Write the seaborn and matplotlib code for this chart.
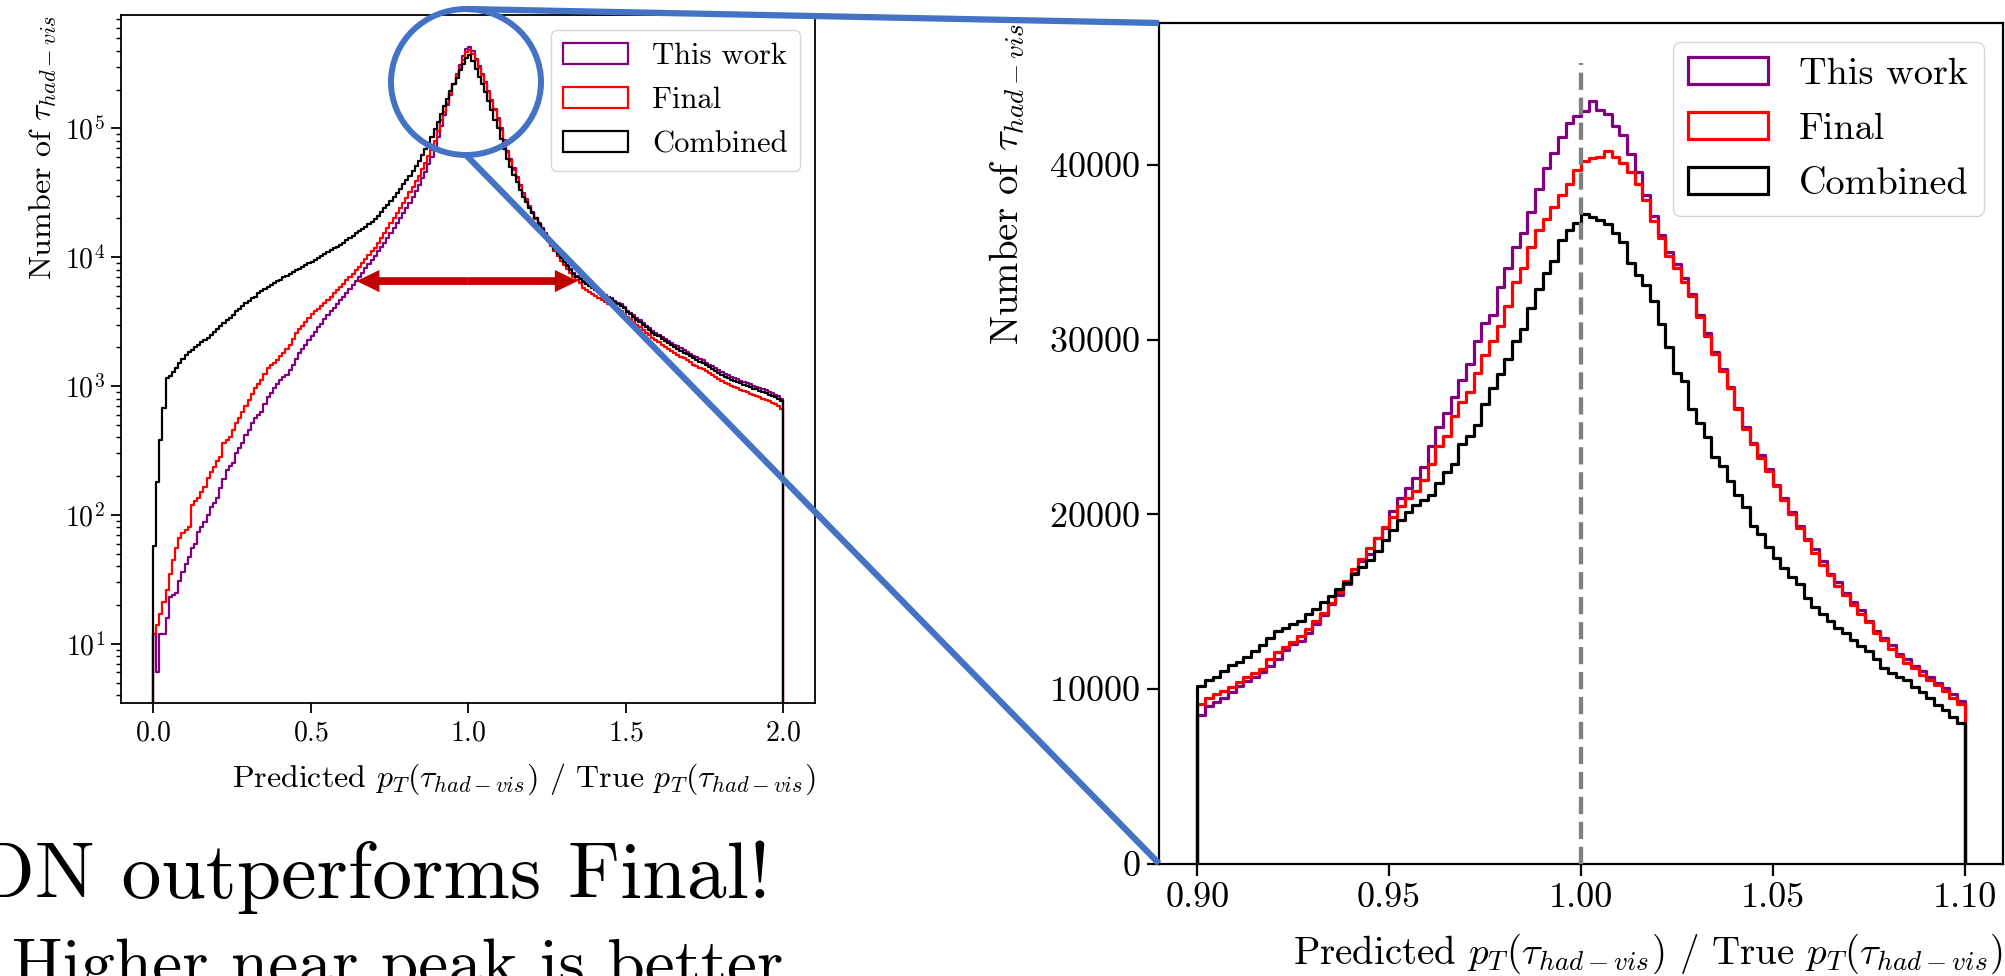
import numpy as np
import matplotlib
matplotlib.use("Agg")
import matplotlib.pyplot as plt
import seaborn as sns
from matplotlib.patches import Ellipse, Patch

# ---------------- data ----------------
series_labels = ["This work", "Final", "Combined"]
series_colors = ["purple", "red", "black"]

# full range: 0 - 2, 200 bins (log-scale view)
wide_lo, wide_hi = 0.0, 2.0
wide_this_work = [
    12, 6, 12, 12, 16, 23, 24, 25, 31, 36,
    42, 47, 55, 60, 74, 80, 89, 100, 116, 125,
    135, 161, 190, 224, 240, 251, 301, 330, 360, 417,
    460, 513, 562, 600, 631, 720, 828, 890, 961, 1040,
    1115, 1170, 1220, 1330, 1460, 1620, 1795, 1950, 2100, 2280,
    2450, 2650, 2850, 3050, 3300, 3540, 3800, 4050, 4350, 4650,
    4950, 5300, 5700, 6100, 6550, 7050, 7600, 8200, 8850, 9550,
    10300, 11100, 12000, 13000, 14100, 15300, 16700, 18300, 20000, 22000,
    24100, 26500, 29400, 32700, 36500, 41000, 46200, 52500, 60000, 71000,
    85100, 105000, 126000, 151000, 182000, 219000, 263000, 309000, 363000, 412000,
    430000, 398000, 347000, 302000, 263000, 229000, 195000, 166000, 141000, 120000,
    100000, 81300, 66800, 57500, 49000, 42200, 36300, 31600, 28200, 24800,
    22400, 20300, 18500, 16900, 15400, 14100, 12900, 11700, 10800, 10000,
    9250, 8650, 8100, 7550, 7150, 6850, 6550, 6250, 6050, 5850,
    5650, 5450, 5300, 5100, 4950, 4800, 4600, 4450, 4300, 4100,
    3850, 3700, 3530, 3380, 3230, 3080, 2940, 2800, 2690, 2600,
    2510, 2420, 2320, 2240, 2170, 2100, 2030, 1960, 1900, 1840,
    1780, 1720, 1670, 1630, 1580, 1520, 1470, 1420, 1370, 1330,
    1290, 1240, 1210, 1180, 1160, 1130, 1100, 1070, 1050, 1030,
    1000, 990, 965, 945, 925, 905, 880, 860, 835, 795,
]
wide_final = [
    12, 14, 17, 21, 26, 35, 45, 55, 66, 72,
    77, 81, 119, 128, 135, 150, 166, 193, 215, 237,
    262, 283, 360, 380, 405, 460, 513, 570, 631, 700,
    780, 870, 961, 1040, 1115, 1240, 1373, 1450, 1500, 1590,
    1700, 1795, 1950, 2084, 2300, 2570, 2750, 2950, 3150, 3400,
    3630, 3800, 3980, 4150, 4400, 4680, 4950, 5250, 5550, 5850,
    6150, 6600, 7000, 7450, 7900, 8450, 9000, 9700, 10400, 11100,
    11800, 12900, 14100, 15400, 16800, 18300, 20000, 22000, 24000, 26300,
    28800, 31800, 35000, 38800, 43000, 48000, 54000, 60500, 68000, 80000,
    95500, 115000, 135000, 158000, 186000, 219000, 257000, 295000, 339000, 389000,
    405000, 380000, 339000, 295000, 257000, 224000, 191000, 162000, 138000, 117000,
    97700, 79400, 65300, 56200, 47900, 41200, 35500, 30900, 27900, 24500,
    22100, 19800, 17900, 16200, 14700, 13400, 12200, 11100, 10200, 9400,
    8700, 8100, 7500, 7000, 6600, 6300, 5800, 5550, 5350, 5150,
    5000, 4800, 4650, 4500, 4350, 4250, 4050, 3950, 3800, 3650,
    3450, 3300, 3150, 3000, 2850, 2700, 2600, 2480, 2350, 2280,
    2200, 2100, 2020, 1950, 1880, 1820, 1750, 1690, 1640, 1580,
    1530, 1470, 1430, 1390, 1350, 1300, 1260, 1210, 1170, 1130,
    1100, 1060, 1030, 1000, 985, 960, 940, 915, 895, 875,
    850, 840, 820, 800, 785, 760, 745, 720, 700, 670,
]
wide_combined = [
    57, 181, 380, 673, 1150, 1200, 1290, 1380, 1500, 1620,
    1740, 1830, 1900, 2010, 2080, 2190, 2290, 2380, 2490, 2640,
    2760, 2900, 3080, 3250, 3380, 3560, 3800, 3950, 4180, 4420,
    4600, 4820, 4950, 5230, 5450, 5620, 5850, 6100, 6300, 6550,
    6700, 7000, 7200, 7450, 7650, 7900, 8100, 8400, 8650, 8950,
    9200, 9500, 9850, 10200, 10600, 10900, 11300, 11700, 12100, 12500,
    13000, 13500, 14100, 14700, 15300, 15900, 16600, 17300, 18100, 18900,
    19800, 21000, 22500, 24000, 25500, 27400, 29300, 31500, 34000, 36700,
    39500, 42500, 46500, 51000, 56000, 62000, 69000, 77000, 85000, 98000,
    112000, 129000, 148000, 170000, 195000, 219000, 245000, 282000, 316000, 351000,
    371000, 331000, 288000, 251000, 219000, 191000, 162000, 138000, 117000, 100000,
    83000, 69000, 57500, 50000, 43600, 38000, 33100, 29500, 26900, 24000,
    21900, 20000, 18200, 16600, 15100, 13800, 12600, 11500, 10600, 9800,
    9100, 8500, 7950, 7400, 7000, 6750, 6450, 6150, 5950, 5750,
    5550, 5350, 5200, 5000, 4850, 4700, 4500, 4350, 4200, 4000,
    3750, 3600, 3430, 3280, 3130, 2990, 2850, 2720, 2600, 2510,
    2430, 2340, 2240, 2160, 2090, 2020, 1950, 1880, 1820, 1760,
    1700, 1640, 1590, 1550, 1500, 1450, 1400, 1350, 1300, 1260,
    1220, 1175, 1150, 1120, 1100, 1070, 1050, 1020, 1000, 980,
    955, 945, 920, 900, 880, 860, 840, 820, 795, 760,
]

# peak region: 0.9 - 1.1, 100 bins (linear view)
zoom_lo, zoom_hi = 0.9, 1.1
zoom_this_work = [
    8500, 9000, 9250, 9450, 9800, 10150, 10450, 10700, 10950, 11300,
    11700, 12250, 12550, 12750, 13200, 13700, 14250, 14850, 15400, 16000,
    16650, 17300, 17700, 18650, 19200, 20200, 20900, 21500, 22100, 22700,
    23900, 25000, 25800, 26700, 27700, 28600, 29900, 30950, 31400, 33000,
    34100, 35300, 36100, 37300, 38600, 39800, 40700, 41600, 42400, 42800,
    43100, 43650, 43150, 42900, 42250, 41700, 40600, 39600, 38300, 37100,
    36000, 35000, 34300, 33500, 32600, 31400, 30400, 29300, 28300, 27300,
    26100, 25000, 24100, 23400, 22600, 21700, 20900, 20100, 19300, 18600,
    18000, 17300, 16600, 16100, 15500, 15000, 14500, 13900, 13300, 12900,
    12500, 12000, 11700, 11300, 11000, 10700, 10350, 10050, 9700, 9300,
]
zoom_final = [
    9150, 9500, 9700, 9850, 10100, 10400, 10700, 10900, 11150, 11700,
    12100, 12400, 12700, 13000, 13450, 13900, 14350, 14900, 15550, 16200,
    16850, 17450, 18050, 18650, 19250, 19850, 20450, 20900, 21350, 21950,
    22900, 23900, 24500, 25600, 26400, 27000, 28100, 29100, 29900, 30800,
    31900, 33300, 34100, 35300, 36300, 36900, 37600, 38300, 38900, 39700,
    40200, 40400, 40450, 40800, 40450, 40100, 39600, 38900, 38000, 36800,
    35800, 34800, 34100, 33300, 32500, 31300, 30200, 29200, 28200, 27200,
    26000, 24900, 24000, 23200, 22500, 21600, 20800, 20000, 19200, 18500,
    17800, 17100, 16500, 15900, 15400, 14800, 14300, 13800, 13200, 12800,
    12300, 11900, 11500, 11200, 10800, 10500, 10200, 9900, 9500, 9150,
]
zoom_combined = [
    10180, 10500, 10700, 11000, 11350, 11550, 11800, 12150, 12500, 12900,
    13300, 13500, 13700, 13900, 14300, 14600, 15000, 15300, 15700, 16050,
    16550, 17000, 17400, 17900, 18500, 19100, 19650, 20150, 20500, 20800,
    21100, 21800, 22400, 22900, 24000, 24500, 25100, 26300, 27200, 28000,
    28900, 29900, 30600, 31800, 32900, 33800, 34500, 35700, 36300, 36700,
    37200, 37000, 36850, 36600, 36100, 35600, 34400, 33700, 33100, 32200,
    30900, 29600, 28100, 27650, 26000, 25200, 24400, 23250, 22750, 21900,
    21100, 20400, 19300, 18850, 18100, 17500, 16900, 16400, 16000, 15200,
    14700, 14300, 13900, 13500, 13200, 12800, 12450, 12150, 11700, 11200,
    10900, 10700, 10500, 10100, 9800, 9450, 9100, 8800, 8400, 8050,
]

xlabel_text = r"Predicted $p_T(\tau_{had-vis})$ / True $p_T(\tau_{had-vis})$"
ylabel_text = r"Number of $\tau_{had-vis}$"
headline = "DN outperforms Final!"
subline = "Higher near peak is better"
width_arrow_y = 6530           # height of the width marker on the log view
width_arrow_x = (0.646, 1.347)  # its two ends

# ---------------- style ----------------
plt.rcParams["font.family"] = "serif"
plt.rcParams["font.serif"] = ["cmr10", "DejaVu Serif"]
plt.rcParams["mathtext.fontset"] = "cm"
plt.rcParams["axes.formatter.use_mathtext"] = True
plt.rcParams["axes.unicode_minus"] = False

W, H = 2006, 976
fig = plt.figure(figsize=(W / 100, H / 100), dpi=100)
fig.patch.set_facecolor("white")


def px_axes(left, top, right, bottom):
    return fig.add_axes([left / W, 1 - bottom / H, (right - left) / W, (bottom - top) / H])


def step_hist(ax, lo, hi, counts, color, lw):
    counts = np.asarray(counts, dtype=float)
    edges = np.linspace(lo, hi, len(counts) + 1)
    eps = (hi - lo) * 1e-6
    # empty guard bins at both ends so the outline drops to the baseline
    edges = np.concatenate([[lo - eps], edges, [hi + eps]])
    centers = 0.5 * (edges[:-1] + edges[1:])
    weights = np.concatenate([[0.0], counts, [0.0]])
    sns.histplot(x=centers, weights=weights, bins=edges.tolist(), element="step",
                 fill=False, color=color, linewidth=lw, ax=ax)


def legend_handles(lw):
    return [Patch(facecolor="none", edgecolor=c, linewidth=lw, label=l)
            for l, c in zip(series_labels, series_colors)]


def style_axes(ax, fs, major_len, spine_w):
    for s in ax.spines.values():
        s.set_linewidth(spine_w)
    ax.tick_params(which="major", length=major_len, width=spine_w, labelsize=fs, pad=5)
    ax.tick_params(which="minor", length=major_len * 0.55, width=spine_w * 0.8)


# ---------------- left: full range, log scale ----------------
axL = px_axes(121.5, 15, 815, 703.3)
for vals, c in zip([wide_this_work, wide_final, wide_combined], series_colors):
    step_hist(axL, wide_lo, wide_hi, vals, c, 1.6)
axL.set_yscale("log")
axL.set_xlim(-0.1, 2.1)
axL.set_ylim(3.46, 7.57e5)
axL.set_xticks([0.0, 0.5, 1.0, 1.5, 2.0])
axL.set_xlabel(xlabel_text, fontsize=23, loc="right", labelpad=11)
axL.set_ylabel(ylabel_text, fontsize=23, loc="top", labelpad=4)
style_axes(axL, 20, 7, 1.3)
axL.legend(handles=legend_handles(1.6), loc="upper right", fontsize=22,
           handlelength=2.1, labelspacing=0.55)

# width marker between the two curves
xc = 0.5 * (width_arrow_x[0] + width_arrow_x[1])
for xe in width_arrow_x:
    axL.annotate("", xy=(xe, width_arrow_y), xytext=(xc, width_arrow_y),
                 arrowprops=dict(arrowstyle="simple,head_length=0.82,head_width=0.8,tail_width=0.28",
                                 mutation_scale=20, fc="#C00000", ec="none",
                                 shrinkA=0, shrinkB=0),
                 annotation_clip=False, zorder=6)

# ---------------- right: peak region, linear ----------------
axR = px_axes(1159, 23, 2003, 863.5)
for vals, c in zip([zoom_this_work, zoom_final, zoom_combined], series_colors):
    step_hist(axR, zoom_lo, zoom_hi, vals, c, 2.3)
ref_top = 1.05 * max(max(zoom_this_work), max(zoom_final), max(zoom_combined))
axR.vlines(1.0, 0, ref_top, colors="grey", linestyles=(0, (4.0, 1.8)),
           linewidth=3.1, zorder=5)
axR.set_xlim(0.89, 1.11)
axR.set_ylim(0, 1.05 * ref_top)
axR.set_xticks([0.90, 0.95, 1.00, 1.05, 1.10])
axR.set_xticklabels(["0.90", "0.95", "1.00", "1.05", "1.10"])
axR.set_yticks([0, 10000, 20000, 30000, 40000])
axR.set_xlabel(xlabel_text, fontsize=28, loc="right", labelpad=13)
axR.set_ylabel(ylabel_text, fontsize=28, loc="top", labelpad=16)
style_axes(axR, 26, 8.5, 1.6)
axR.legend(handles=legend_handles(2.3), loc="upper right", fontsize=27.5,
           handlelength=2.1, labelspacing=0.55)

# ---------------- overlay: zoom indicator and captions ----------------
ov = fig.add_axes([0, 0, 1, 1], zorder=10)
ov.set_xlim(0, W)
ov.set_ylim(H, 0)
ov.axis("off")
ov.patch.set_alpha(0)

blue = "#4472C4"
cx, cy, ew, eh = 466, 82, 150, 146
ov.add_patch(Ellipse((cx, cy), ew, eh, fill=False, ec=blue, lw=4.3))
posR = axR.get_position()
rx0 = posR.x0 * W
ry_top = (1 - posR.y1) * H
ry_bot = (1 - posR.y0) * H
ov.plot([cx, rx0], [cy - eh / 2, ry_top], color=blue, lw=4.5, solid_capstyle="butt")
ov.plot([cx, rx0], [cy + eh / 2, ry_bot], color=blue, lw=4.5, solid_capstyle="butt")

ov.text(-26, 898, headline, ha="left", va="baseline", fontsize=57.5, color="black")
ov.text(12, 985, subline, ha="left", va="baseline", fontsize=48.5, color="black")

fig.savefig("out.png", dpi=100, facecolor="white")
